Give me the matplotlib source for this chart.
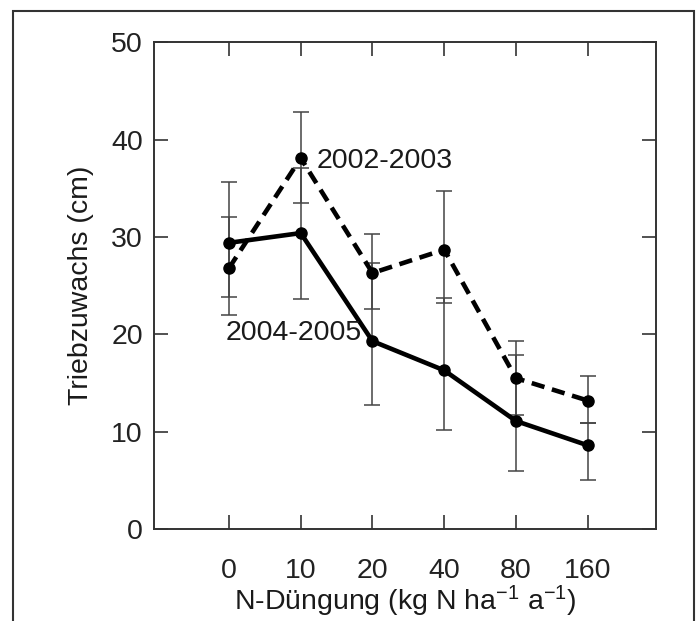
import numpy as np
import matplotlib.pyplot as plt
from matplotlib.patches import Rectangle

plt.rcParams['font.family'] = ['Liberation Sans', 'DejaVu Sans']
plt.rcParams['mathtext.default'] = 'regular'

# data
doses = ['0', '10', '20', '40', '80', '160']
y0405 = [29.4, 30.4, 19.3, 16.3, 11.1, 8.6]          # 2004-2005 (solid)
hi0405 = [35.6, 37.1, 27.3, 23.7, 17.9, 10.9]
lo0405 = [23.8, 23.6, 12.7, 10.2, 6.0, 5.0]
y0203 = [26.8, 38.1, 26.3, 28.7, 15.5, 13.2]         # 2002-2003 (dashed)
hi0203 = [32.0, 42.8, 30.3, 34.7, 19.3, 15.7]
lo0203 = [22.0, 33.5, 22.6, 23.2, 11.7, 10.9]

fs = 20.5
x = np.arange(len(doses))
fig = plt.figure(figsize=(7, 6.21), dpi=100)
ax = fig.add_axes([0.22, 0.148, 0.717, 0.784])

# error bars behind the lines
for y, hi, lo in [(y0405, hi0405, lo0405), (y0203, hi0203, lo0203)]:
	y = np.array(y)
	err = [y - np.array(lo), np.array(hi) - y]
	ax.errorbar(x, y, yerr=err, fmt='none', ecolor='#444444', elinewidth=1.1,
		capsize=6, capthick=1.1, zorder=1)

ax.plot(x, y0405, color='black', lw=3.3, marker='o', ms=8, zorder=3)
ax.plot(x, y0203, color='black', lw=3.3, marker='o', ms=8, zorder=3,
	dashes=(2.9, 1.7), dash_capstyle='butt')

ax.text(1.22, 37.8, '2002-2003', fontsize=fs, ha='left', va='center', color='#1a1a1a')
ax.text(-0.04, 20.1, '2004-2005', fontsize=fs, ha='left', va='center', color='#1a1a1a')

ax.set_xlim(-1.045, 5.95)
ax.set_ylim(0, 50)
ax.set_xticks(x)
ax.set_xticklabels(doses)
ax.set_yticks([0, 10, 20, 30, 40, 50])
ax.tick_params(direction='in', length=10, width=1.1, labelsize=fs,
	top=True, right=True, colors='#222222')
ax.tick_params(axis='x', pad=21)
ax.tick_params(axis='y', pad=8)
for s in ax.spines.values():
	s.set_linewidth(1.4)
	s.set_color('#333333')

ax.set_xlabel('N-Düngung (kg N ha$^{-1}$ a$^{-1}$)', fontsize=fs, color='#1a1a1a', labelpad=0)
ax.set_ylabel('Triebzuwachs (cm)', fontsize=fs, color='#1a1a1a', labelpad=12)

# frame around the whole figure
fig.patches.append(Rectangle((13/700, -0.05), (694-13)/700, 1 - 11/621 + 0.05,
	transform=fig.transFigure, fill=False, lw=1.5, edgecolor='#333333', clip_on=False))

plt.savefig('out.png', dpi=100)
